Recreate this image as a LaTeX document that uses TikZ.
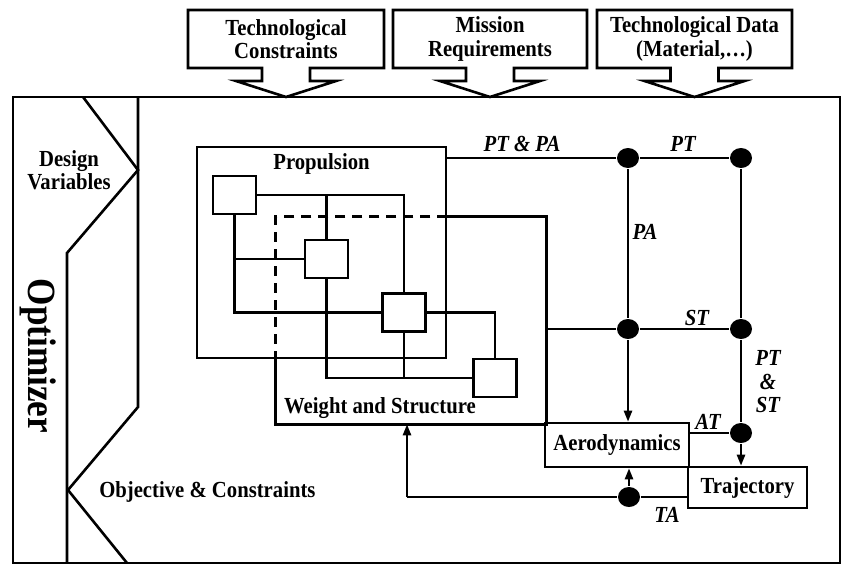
\documentclass[tikz,border=0pt]{standalone}
\usepackage{fontspec}
\setmainfont[FakeStretch=0.9]{Liberation Serif}
\newfontfamily\optfont[FakeStretch=0.88]{Liberation Serif}
\usetikzlibrary{shapes.geometric,arrows.meta}
\begin{document}
\begin{tikzpicture}[x=1pt,y=-1pt, line width=2.6pt,
  lbl/.style={font=\fontsize{23}{23.5}\selectfont\bfseries, align=center, inner sep=0pt},
  ilbl/.style={font=\fontsize{23}{23.5}\selectfont\bfseries\itshape, align=center, inner sep=0pt},
  box/.style={draw, inner sep=0pt, font=\fontsize{23}{23.5}\selectfont\bfseries},
  sq/.style={draw, inner sep=0pt, minimum width=43pt, minimum height=38pt},
  dot/.style={ellipse, fill=black, inner sep=0pt, minimum width=22pt, minimum height=20pt},
  arr/.style={-{Triangle[length=11pt,width=8pt]}, line width=2.4pt}]
\useasboundingbox (0,0) rectangle (842,565);

% top callouts
\foreach \l/\r/\c in {188/384/286, 393/587/490, 597/792/694.5} {
  \draw (\l,10) -- (\r,10) -- (\r,68) -- (\c+24,68) -- (\c+24,81) -- (\c+50,81) -- (\c,97)
        -- (\c-50,81) -- (\c-24,81) -- (\c-24,68) -- (\l,68) -- cycle;
}
\node[lbl] (tc) at (286,39) {Technological\\Constraints};
\node[lbl] (mr) at (490,39) {Mission\\Requirements};
\node[lbl] (td) at (694.5,39) {Technological Data\\(Material,…)};

% outer frame
\draw[line width=2.8pt] (13,97) rectangle (840,563);

% optimizer panel
\draw (138,97) -- (138,407) -- (68,490) -- (127,563);
\draw (83,97) -- (138,170) -- (67,253) -- (67,563);
\node[font=\optfont\fontsize{40}{40}\selectfont\bfseries, rotate=-90, anchor=base, inner sep=0pt] (optl) at (28,356) {Optimizer};
\node[lbl] (dv) at (69,170) {Design\\Variables};
\node[lbl, anchor=west] (oc) at (98,492) {Objective \& Constraints};

% propulsion
\node[box, minimum width=249pt, minimum height=211pt] (prop) at (321.5,252.5) {};
\node[lbl] (propl) at (321.5,164) {Propulsion};

% small squares
\node[sq] (s1) at (234.5,195) {};
\node[sq] (s2) at (326.5,259) {};
\node[sq] (s3) at (404,312.5) {};
\node[sq] (s4) at (495,378) {};
\draw (s1.east) -- (s3.north |- s1.east) -- (s3.north);
\draw (s2.north) -- (s2.north |- s1.east);
\draw (s1.south) -- (s1.south |- s3.west) -- (s3.west);
\draw (s1.south |- s2.west) -- (s2.west);
\draw (s2.south) -- (s2.south |- s4.west) -- (s4.west);
\draw (s3.south) -- (s3.south |- s4.west);
\draw (s3.east) -- (s4.north |- s3.east) -- (s4.north);

% weight and structure
\node[inner sep=0pt, minimum width=268pt, minimum height=205pt] (ws) at (411,320.5) {};
\draw[dash pattern=on 10pt off 7pt] (prop.east |- ws.north) -- (ws.north west) -- (ws.west |- prop.south);
\draw (ws.west |- prop.south) -- (ws.south west) -- (ws.south east) -- (ws.north east) -- (prop.east |- ws.north);
\node[lbl] (wsl) at (380,408) {Weight and Structure};

% aerodynamics and trajectory
\node[box, minimum width=144pt, minimum height=44pt] (aero) at (617,445) {Aerodynamics};
\node[box, minimum width=119pt, minimum height=41pt] (traj) at (747.5,487.5) {Trajectory};

% junction dots
\node[dot] (d1) at (628,158) {};
\node[dot] (d2) at (741,158) {};
\node[dot] (d3) at (628,329) {};
\node[dot] (d4) at (741,329) {};
\node[dot] (d5) at (741,433) {};
\node[dot] (d6) at (629,497) {};
\coordinate (ta) at (407,497);

% connectors
\draw (prop.east |- d1) -- (d1) -- (d2);
\draw (d1) -- (d3);
\draw (d2) -- (d4) -- (d5);
\draw (ws.east |- d3) -- (d3) -- (d4);
\draw[arr] (d3) -- (d3 |- aero.north);
\draw[arr] (d5) -- (d5 |- traj.north);
\draw (aero.east |- d5) -- (d5);
\draw (traj.west |- d6) -- (d6) -- (ta);
\draw[arr] (ta) -- (ta |- ws.south);
\draw[arr] (d6) -- (d6 |- aero.south);

% link labels
\node[ilbl] (lptpa) at (522,144) {PT \& PA};
\node[ilbl] (lpt) at (683,144) {PT};
\node[ilbl] (lpa) at (645,232) {PA};
\node[ilbl] (lst) at (697,318) {ST};
\node[ilbl] (lptst) at (768,382) {PT\\\&\\ST};
\node[ilbl] (lat) at (708,422) {AT};
\node[ilbl] (lta) at (667,515) {TA};
\end{tikzpicture}
\end{document}
